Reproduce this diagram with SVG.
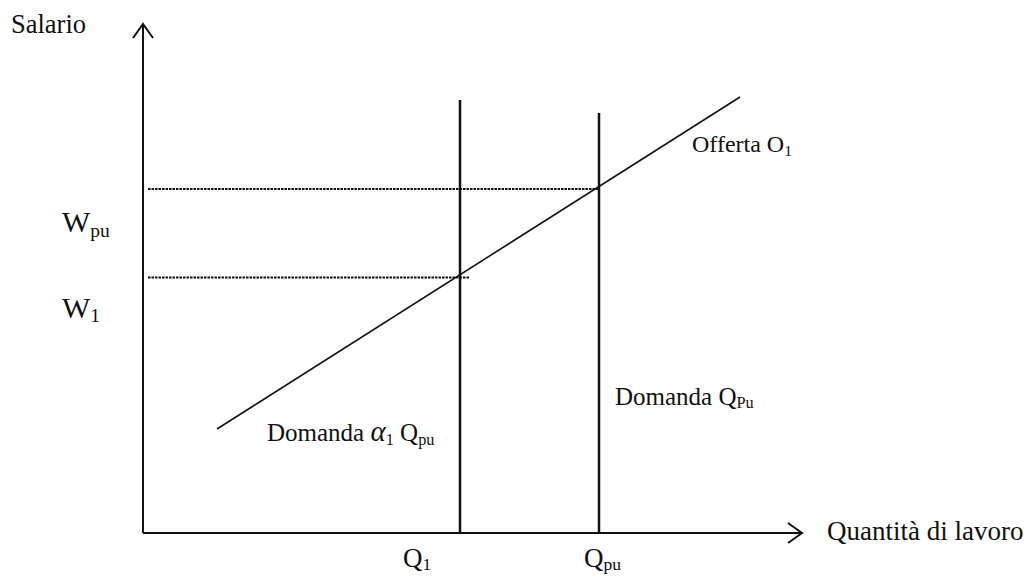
<svg xmlns="http://www.w3.org/2000/svg" width="1031" height="577" viewBox="0 0 1031 577">
<style>
text{font-family:"Liberation Serif","Times New Roman",serif;fill:#111}
.ax{stroke:#111;stroke-width:2;fill:none}
.vl{stroke:#111;stroke-width:2.5;fill:none}
.sl{stroke:#111;stroke-width:1.6;fill:none}
.dot{stroke:#111;stroke-width:1.8;stroke-dasharray:2.5 1;fill:none}
.sub{font-size:65%}
</style>
<rect width="1031" height="577" fill="#fff"/>
<g id="connectors">
<path class="ax" d="M143,533 V24 M133,38 L143,24 L153,38"/>
<path class="ax" d="M143,533 H802 M788,523 L802,533 L788,543"/>
<path class="vl" d="M460,100 V533"/>
<path class="vl" d="M599,113 V533"/>
<path class="sl" d="M217,429 L740,97"/>
<path class="dot" d="M148,189 H599"/>
<path class="dot" d="M148,277.5 H470"/>
</g>
<g id="labels">
<text x="11" y="33" font-size="26.5">Salario</text>
<text x="62" y="232" font-size="30">W<tspan class="sub" dy="5">pu</tspan></text>
<text x="62" y="318" font-size="30">W<tspan class="sub" dy="4">1</tspan></text>
<text x="692" y="152" font-size="24">Offerta O<tspan class="sub" dy="4">1</tspan></text>
<text x="267" y="441" font-size="25">Domanda <tspan font-style="italic" font-size="29">α</tspan><tspan class="sub" dy="4">1</tspan><tspan dy="-4"> Q</tspan><tspan class="sub" dy="4">pu</tspan></text>
<text x="615" y="405" font-size="25">Domanda Q<tspan class="sub" dy="3">Pu</tspan></text>
<text x="403" y="567" font-size="27">Q<tspan class="sub" dy="3">1</tspan></text>
<text x="584" y="567" font-size="27">Q<tspan class="sub" dy="3">pu</tspan></text>
<text x="827" y="540" font-size="27">Quantità di lavoro</text>
</g>
</svg>
